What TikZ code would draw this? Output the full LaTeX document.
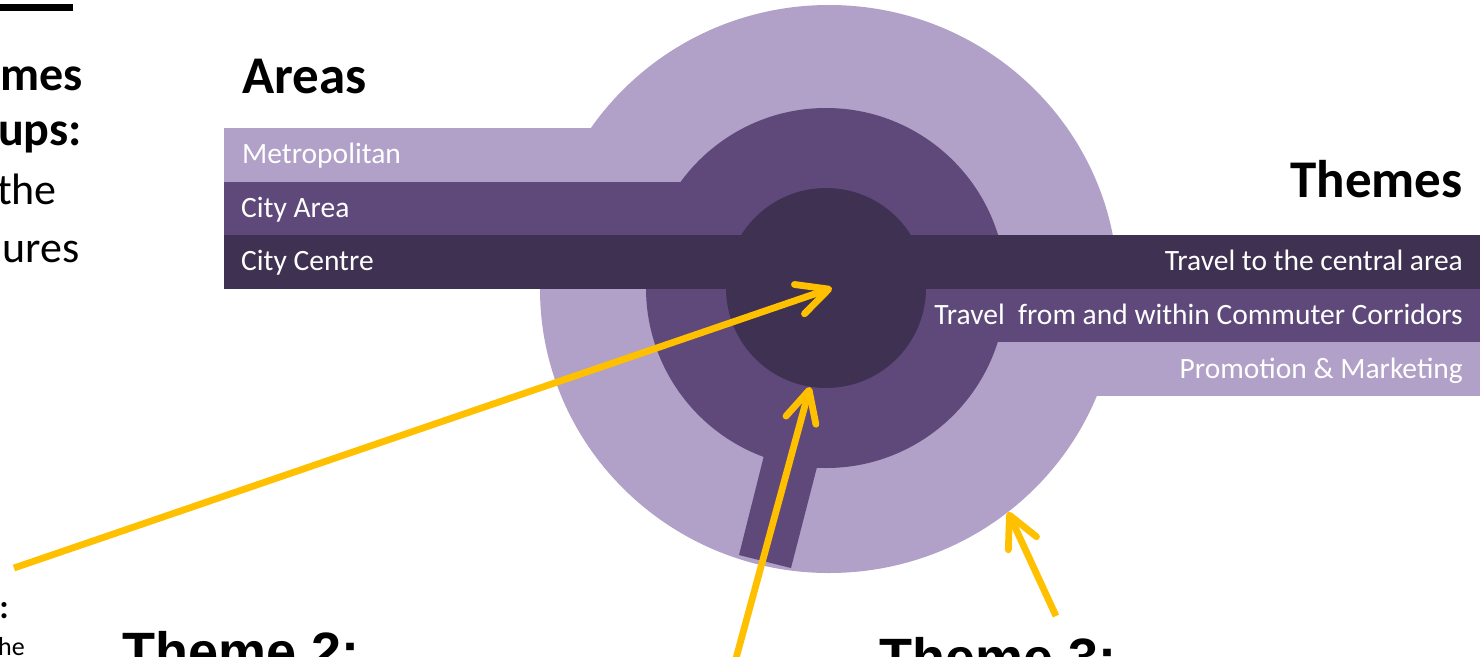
\documentclass[tikz,border=0pt]{standalone}
\usepackage{fontspec}
\setmainfont{Carlito}
\newfontfamily\arialf{Liberation Sans}
\usetikzlibrary{arrows.meta}
\definecolor{plight}{HTML}{B1A0C7}
\definecolor{pmid}{HTML}{5F497A}
\definecolor{pdark}{HTML}{3F3151}
\definecolor{pyell}{HTML}{FFC000}
\tikzset{
  lbl/.style={text=white, font=\fontsize{29.5}{34}\selectfont, inner sep=0pt},
  head/.style={text=black, font=\fontsize{53}{62}\selectfont\bfseries, inner sep=0pt},
  sidebold/.style={text=black, font=\fontsize{48}{58}\selectfont\bfseries, inner sep=0pt, anchor=base east},
  sidereg/.style={text=black, font=\fontsize{44}{54}\selectfont, inner sep=0pt, anchor=base east},
  themelbl/.style={text=black, font=\arialf\fontsize{54}{62}\selectfont\bfseries, inner sep=0pt, anchor=base west},
  yarrow/.style={draw=pyell, line width=6.8pt, -{Straight Barb[length=31pt,width=31pt,round]}},
}
\begin{document}
\begin{tikzpicture}[x=1pt,y=-1pt]
\useasboundingbox (0,0) rectangle (1480,656);
\clip (0,0) rectangle (1480,656);
% top-left bar
\fill[black] (0,4) rectangle (73,11);
% outer ring and light bands
\fill[plight] (829,289) ellipse [x radius=289pt, y radius=284pt];
\fill[plight] (224,128) rectangle (650,182);
\fill[plight] (950,342) rectangle (1480,396);
% middle ring, stem and medium bands
\fill[pmid] (826,288) circle [radius=180pt];
\fill[pmid] (803,300) -- (860,300) -- (791,568) -- (739,555) -- cycle;
\fill[pmid] (224,182) rectangle (720,235);
\fill[pmid] (900,288) rectangle (1480,342);
% inner circle and dark band
\fill[pdark] (826,288) circle [radius=100pt];
\fill[pdark] (224,235) rectangle (1480,288.5);
% headings
\node[head, anchor=base west] (areas) at (242,93) {Areas};
\node[head, anchor=base east] (themes) at (1463,197) {Themes};
% area labels
\node[lbl, anchor=base west] (metro) at (242,163) {Metropolitan};
\node[lbl, anchor=base west] (cityarea) at (241,217) {City Area};
\node[lbl, anchor=base west] (citycentre) at (241,270) {City Centre};
% theme labels
\node[lbl, anchor=base east] (t1) at (1463,270) {Travel to the central area};
\node[lbl, anchor=base east] (t2) at (1463,324) {Travel\ \ from and within Commuter Corridors};
\node[lbl, anchor=base east] (t3) at (1463,378) {Promotion \& Marketing};
% cropped side text (only the part inside the frame)
\node[sidebold] (s1) at (83,90) {mes};
\node[sidebold] (s2) at (82,145) {ups:};
\node[sidereg] (s3) at (57,204) {the};
\node[sidereg] (s4) at (80,262) {ures};
\node[text=black, font=\fontsize{34}{40}\selectfont\bfseries, inner sep=0pt, anchor=base east] (s5) at (9,618) {:};
\node[text=black, font=\fontsize{26}{30}\selectfont, inner sep=0pt, anchor=base east] (s6) at (25,655) {he};
% bottom theme titles
\node[themelbl] (th2) at (122,670) {Theme 2:};
\node[themelbl] (th3) at (879,676) {Theme 3:};
% arrows
\coordinate (a1s) at (14,568);
\coordinate (a1e) at (832,288);
\coordinate (a2s) at (735,662);
\coordinate (a2e) at (810,387);
\coordinate (a3s) at (1056,616);
\coordinate (a3e) at (1008,512);
\draw[yarrow] (a1s) -- (a1e);
\draw[yarrow] (a2s) -- (a2e);
\draw[yarrow] (a3s) -- (a3e);
\end{tikzpicture}
\end{document}
